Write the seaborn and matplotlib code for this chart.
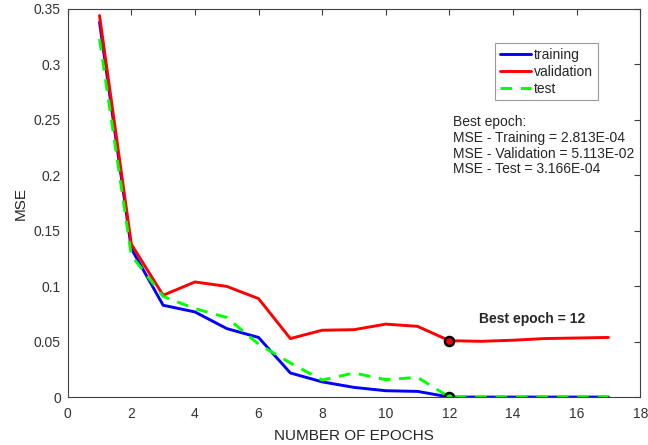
import numpy as np
import pandas as pd
import matplotlib
matplotlib.use("Agg")
import matplotlib.pyplot as plt
import seaborn as sns

# Дані з графіка
epochs = list(range(1, 18))
training = [0.338, 0.134, 0.083, 0.077, 0.062, 0.054, 0.022, 0.014, 0.009, 0.006, 0.0054,
            0.00028, 0.00028, 0.00028, 0.00028, 0.00028, 0.00028]
validation = [0.344, 0.138, 0.092, 0.104, 0.100, 0.089, 0.053, 0.0605, 0.061, 0.066, 0.064,
              0.0511, 0.0505, 0.0515, 0.053, 0.0535, 0.054]
test = [0.323, 0.128, 0.091, 0.080, 0.072, 0.048, 0.031, 0.0156, 0.022, 0.0160, 0.018,
        0.0003, 0.0003, 0.0003, 0.0003, 0.0003, 0.0003]
best_epoch = 12
info_lines = ["Best epoch:", "MSE - Training = 2.813E-04",
              "MSE - Validation = 5.113E-02", "MSE - Test = 3.166E-04"]

df = pd.DataFrame({"epoch": epochs, "training": training,
                   "validation": validation, "test": test})

sns.set_style("white")
plt.rcParams["font.family"] = ["Liberation Sans", "DejaVu Sans"]

fig = plt.figure(figsize=(6.48, 4.45), dpi=100)
ax = fig.add_axes([0.1045, 0.107, 0.8835, 0.873])

sns.lineplot(data=df, x="epoch", y="training", color="#0000ff", lw=2.1, label="training", ax=ax)
sns.lineplot(data=df, x="epoch", y="validation", color="#ff0000", lw=2.1, label="validation", ax=ax)
sns.lineplot(data=df, x="epoch", y="test", color="#00ff00", lw=2.1, ls=(0, (4, 3)), label="test", ax=ax)

# Маркери найкращої епохи
bi = epochs.index(best_epoch)
ax.plot(best_epoch, validation[bi], "o", ms=6.5, mfc="#ff0000", mec="black", mew=1.8)
ax.plot(best_epoch, test[bi], "o", ms=6.5, mfc="#00ff00", mec="black", mew=1.8)
ax.text(14.6, 0.071, f"Best epoch = {best_epoch}", fontsize=10, fontweight="bold",
        ha="center", va="center")

ax.set_xlim(0, 18)
ax.set_ylim(0, 0.35)
ax.set_xticks(np.arange(0, 19, 2))
ax.set_yticks(np.arange(0, 0.351, 0.05))
ax.set_yticklabels(["0", "0.05", "0.1", "0.15", "0.2", "0.25", "0.3", "0.35"])
ax.set_xlabel("NUMBER OF EPOCHS", fontsize=11, color="#262626", labelpad=6)
ax.set_ylabel("MSE", fontsize=11, color="#262626", labelpad=4)
ax.tick_params(direction="in", length=4, width=0.8, colors="#404040", labelsize=10,
               top=True, right=True, labelcolor="#333333")
ax.tick_params(axis="x", pad=7)
ax.tick_params(axis="y", pad=5)
for s in ax.spines.values():
    s.set_color("#404040")
    s.set_linewidth(0.8)

leg = ax.legend(loc="upper left", bbox_to_anchor=(0.747, 0.912), fontsize=10,
                frameon=True, fancybox=False, edgecolor="#808080", handlelength=2.2,
                borderpad=0.35, labelspacing=0.2, handletextpad=0.25, borderaxespad=0)
leg.get_frame().set_linewidth(0.8)

ax.text(0.673, 0.726, "\n".join(info_lines), transform=ax.transAxes, fontsize=10,
        va="top", ha="left", linespacing=1.15, color="#262626")

plt.savefig("out.png", dpi=100)
